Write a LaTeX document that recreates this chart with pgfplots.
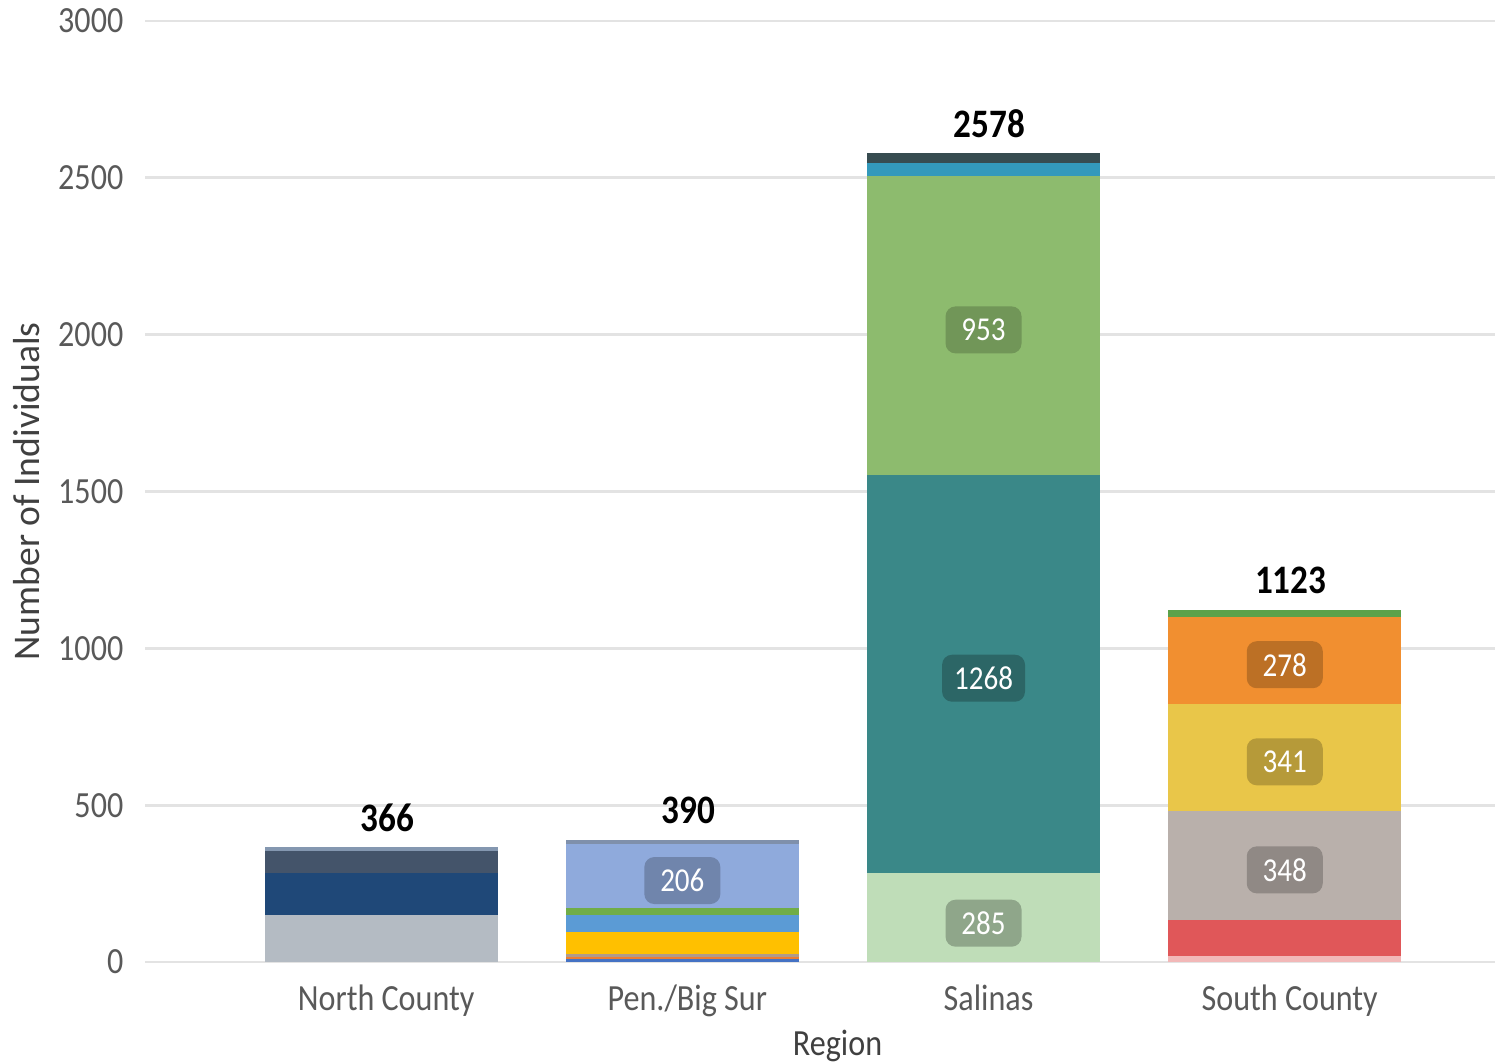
\documentclass[border=0pt]{standalone}
\usepackage{pgfplots}
\pgfplotsset{compat=1.18}
\usepackage{fontspec}
\setmainfont{Carlito}[FakeStretch=0.87]
\newfontfamily\ylabfont{Carlito}
\definecolor{tickgray}{HTML}{595959}
\definecolor{labgray}{HTML}{404040}
\definecolor{gridgray}{HTML}{E3E3E3}
% North County
\definecolor{nca}{HTML}{B4BBC3}
\definecolor{ncb}{HTML}{1F4878}
\definecolor{ncc}{HTML}{44546A}
\definecolor{ncd}{HTML}{8497B0}
% Pen./Big Sur
\definecolor{pa}{HTML}{4472C4}
\definecolor{pb}{HTML}{ED7D31}
\definecolor{pc}{HTML}{B09A8A}
\definecolor{pd}{HTML}{FFC000}
\definecolor{pe}{HTML}{5B9BD5}
\definecolor{pf}{HTML}{70AD47}
\definecolor{pg}{HTML}{8FAADC}
\definecolor{ph}{HTML}{7F90AB}
% Salinas
\definecolor{sa}{HTML}{BFDDB8}
\definecolor{sb}{HTML}{3A8888}
\definecolor{sc}{HTML}{8DBB6E}
\definecolor{sd}{HTML}{3399BB}
\definecolor{se}{HTML}{374C50}
% South County
\definecolor{ca}{HTML}{F2B8B8}
\definecolor{cb}{HTML}{E05759}
\definecolor{cc}{HTML}{B9B0AB}
\definecolor{cd}{HTML}{E9C649}
\definecolor{ce}{HTML}{F18F30}
\definecolor{cf}{HTML}{5BA24A}
\newcommand{\seg}[5]{\addplot[fill=#1,draw=none] coordinates {(0,#2) (1,#3) (2,#4) (3,#5)};}
\tikzset{lab/.style={rounded corners=1mm, text=white, font=\fontsize{9.5}{10}\selectfont, minimum height=4.7mm, minimum width=7.6mm, inner xsep=1.2mm, inner ysep=0.5mm, yshift=-0.45mm},
tot/.style={anchor=south, inner sep=0pt, yshift=1.5mm, font=\fontsize{11.5}{12}\selectfont\bfseries}}
\begin{document}
\begin{tikzpicture}
\begin{axis}[
  name=ax,
  scale only axis,
  width=13.5cm, height=9.41cm,
  ybar stacked,
  bar width=2.33cm,
  xmin=-0.784, xmax=3.698,
  ymin=0, ymax=3000,
  xtick={0,1,2,3},
  xticklabels={North County, Pen./Big Sur, Salinas, South County},
  ytick={0,500,1000,1500,2000,2500,3000},
  axis line style={draw=none},
  major tick length=0pt,
  ymajorgrids,
  grid style={gridgray, line width=0.8pt},
  tick label style={font=\fontsize{10.5}{12}\selectfont, text=tickgray},
  xticklabel style={anchor=north, inner sep=0pt, yshift=-2.2mm, xshift=0.5mm},
  yticklabel style={anchor=east, inner sep=0pt, xshift=-2.1mm},
  /pgf/number format/assume math mode=true,
  /pgf/number format/1000 sep={},
  xlabel={Region}, ylabel={Number of Individuals},
  every axis x label/.style={at={(axis description cs:0.513,-0.089)}, anchor=center, font=\fontsize{10.5}{12}\selectfont, text=labgray},
  every axis y label/.style={at={(axis description cs:-0.088,0.5)}, anchor=center, rotate=90, font=\ylabfont\fontsize{10.7}{12}\selectfont, text=labgray},
  clip=false,
]
% North County
\seg{nca}{150}{0}{0}{0}
\seg{ncb}{134}{0}{0}{0}
\seg{ncc}{70}{0}{0}{0}
\seg{ncd}{12}{0}{0}{0}
% Pen./Big Sur
\seg{pa}{0}{10}{0}{0}
\seg{pb}{0}{6}{0}{0}
\seg{pc}{0}{9}{0}{0}
\seg{pd}{0}{70}{0}{0}
\seg{pe}{0}{54}{0}{0}
\seg{pf}{0}{22}{0}{0}
\seg{pg}{0}{206}{0}{0}
\seg{ph}{0}{13}{0}{0}
% Salinas
\seg{sa}{0}{0}{285}{0}
\seg{sb}{0}{0}{1268}{0}
\seg{sc}{0}{0}{953}{0}
\seg{sd}{0}{0}{40}{0}
\seg{se}{0}{0}{32}{0}
% South County
\seg{ca}{0}{0}{0}{19}
\seg{cb}{0}{0}{0}{115}
\seg{cc}{0}{0}{0}{348}
\seg{cd}{0}{0}{0}{341}
\seg{ce}{0}{0}{0}{278}
\seg{cf}{0}{0}{0}{22}
% label positions
\coordinate (l206) at (axis cs:1,274);
\coordinate (l285) at (axis cs:2,138);
\coordinate (l1268) at (axis cs:2,919);
\coordinate (l953) at (axis cs:2,2029.5);
\coordinate (l348) at (axis cs:3,308);
\coordinate (l341) at (axis cs:3,652.5);
\coordinate (l278) at (axis cs:3,962);
% totals
\node[tot] at (axis cs:0.02,366) {366};
\node[tot] at (axis cs:1.02,390) {390};
\node[tot] at (axis cs:2.02,2578) {2578};
\node[tot] at (axis cs:3.02,1123) {1123};
\end{axis}
\node[lab, fill=black!22!pg] at (l206) {206};
\node[lab, fill=black!25!sa] at (l285) {285};
\node[lab, fill=black!25!sb] at (l1268) {1268};
\node[lab, fill=black!20!sc] at (l953) {953};
\node[lab, fill=black!22!cc] at (l348) {348};
\node[lab, fill=black!22!cd] at (l341) {341};
\node[lab, fill=black!22!ce] at (l278) {278};
\pgfresetboundingbox
\path ([shift={(-1.45cm,-1.01cm)}]ax.south west) rectangle ([shift={(0.05cm,0.21cm)}]ax.north east);
\end{tikzpicture}
\end{document}
